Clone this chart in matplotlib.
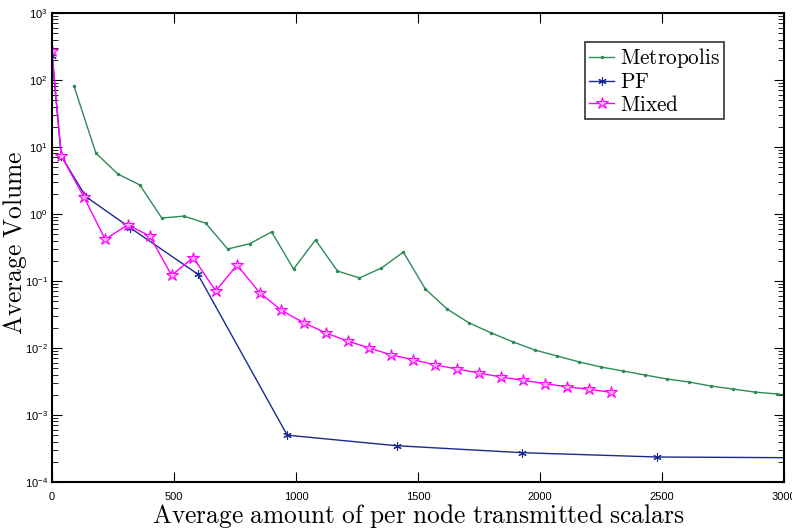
import matplotlib
matplotlib.use("Agg")
import matplotlib.pyplot as plt
from matplotlib.ticker import LogLocator, FixedLocator, NullFormatter

plt.rcParams['mathtext.fontset'] = 'cm'

# ---- data ----
metro_x = [90 * k for k in range(1, 35)]
metro_y = [81, 8.1, 3.95, 2.71, 0.87, 0.93, 0.73, 0.30, 0.36, 0.54,
           0.151, 0.41, 0.141, 0.111, 0.156, 0.27, 0.076, 0.038, 0.0236, 0.0168,
           0.0123, 0.0093, 0.0076, 0.0062, 0.0052, 0.00454, 0.00395, 0.00345, 0.00311, 0.00271,
           0.00244, 0.0022, 0.00206, 0.0019]

pf_x = [0, 38, 139, 320, 597, 964, 1412, 1925, 2481, 3070]
pf_y = [230, 7.3, 1.81, 0.625, 0.127, 5.0e-4, 3.48e-4, 2.74e-4, 2.36e-4, 2.3e-4]

mixed_x = [0, 38, 131, 218, 311, 400, 490, 579, 671, 758, 851, 940, 1031, 1122,
           1212, 1300, 1390, 1479, 1570, 1660, 1750, 1840, 1930, 2020, 2110, 2200, 2291]
mixed_y = [270, 7.4, 1.78, 0.42, 0.69, 0.47, 0.122, 0.223, 0.071, 0.173, 0.067, 0.0365,
           0.0239, 0.0168, 0.0127, 0.0100, 0.0079, 0.0067, 0.0056, 0.00486, 0.00424,
           0.00369, 0.0033, 0.00294, 0.00264, 0.00242, 0.00218]

x_ticks = [0, 500, 1000, 1500, 2000, 2500, 3000]

fig = plt.figure(figsize=(7.92, 5.29), dpi=100)
ax = fig.add_axes([52 / 792, 1 - 482 / 529, (784 - 52) / 792, (482 - 13) / 529])

ax.plot(metro_x, metro_y, color='#2e8b57', lw=1.0, marker='.', ms=3, label=r'$\mathrm{Metropolis}$')
ax.plot(pf_x, pf_y, color='#1a2a8c', lw=1.0, marker=(6, 2, 0), ms=6, mew=0.8, label=r'$\mathrm{PF}$')
ax.plot(mixed_x, mixed_y, color='#ff00ff', lw=1.0, marker='*', ms=9, mfc='#ffb0ff', mec='#ff00ff',
        mew=0.8, label=r'$\mathrm{Mixed}$')

ax.set_yscale('log')
ax.set_xlim(0, 3000)
ax.set_ylim(1e-4, 1e3)
ax.xaxis.set_major_locator(FixedLocator(x_ticks))
ax.yaxis.set_major_locator(LogLocator(base=10, numticks=10))
ax.yaxis.set_minor_locator(LogLocator(base=10, subs=range(2, 10), numticks=20))
ax.yaxis.set_minor_formatter(NullFormatter())

tickfont = ['Liberation Sans Narrow', 'Liberation Sans', 'DejaVu Sans']
ax.tick_params(which='both', direction='in', top=True, right=True, labelsize=8)
ax.tick_params(which='major', length=7, width=0.8)
ax.tick_params(which='minor', length=4, width=0.6)
for lab in ax.get_xticklabels() + ax.get_yticklabels():
    lab.set_family(tickfont)
ax.tick_params(axis='x', pad=7)
ax.tick_params(axis='y', pad=3)

for s in ax.spines.values():
    s.set_linewidth(1.5)

ax.set_xlabel(r'$\mathrm{Average\ amount\ of\ per\ node\ transmitted\ scalars}$', fontsize=18.3)
ax.xaxis.set_label_coords(0.5, -0.042)
ax.set_ylabel(r'$\mathrm{Average\ Volume}$', fontsize=18.3)
ax.yaxis.set_label_coords(-0.032, 0.51)

leg = ax.legend(loc='upper right', bbox_to_anchor=(0.918, 0.938), fontsize=15.3, frameon=True, fancybox=False,
                edgecolor='black', borderpad=0.2, labelspacing=0.1, handlelength=1.2, handletextpad=0.25,
                borderaxespad=0)
leg.get_frame().set_linewidth(1.2)

fig.savefig('out.png', dpi=100)
